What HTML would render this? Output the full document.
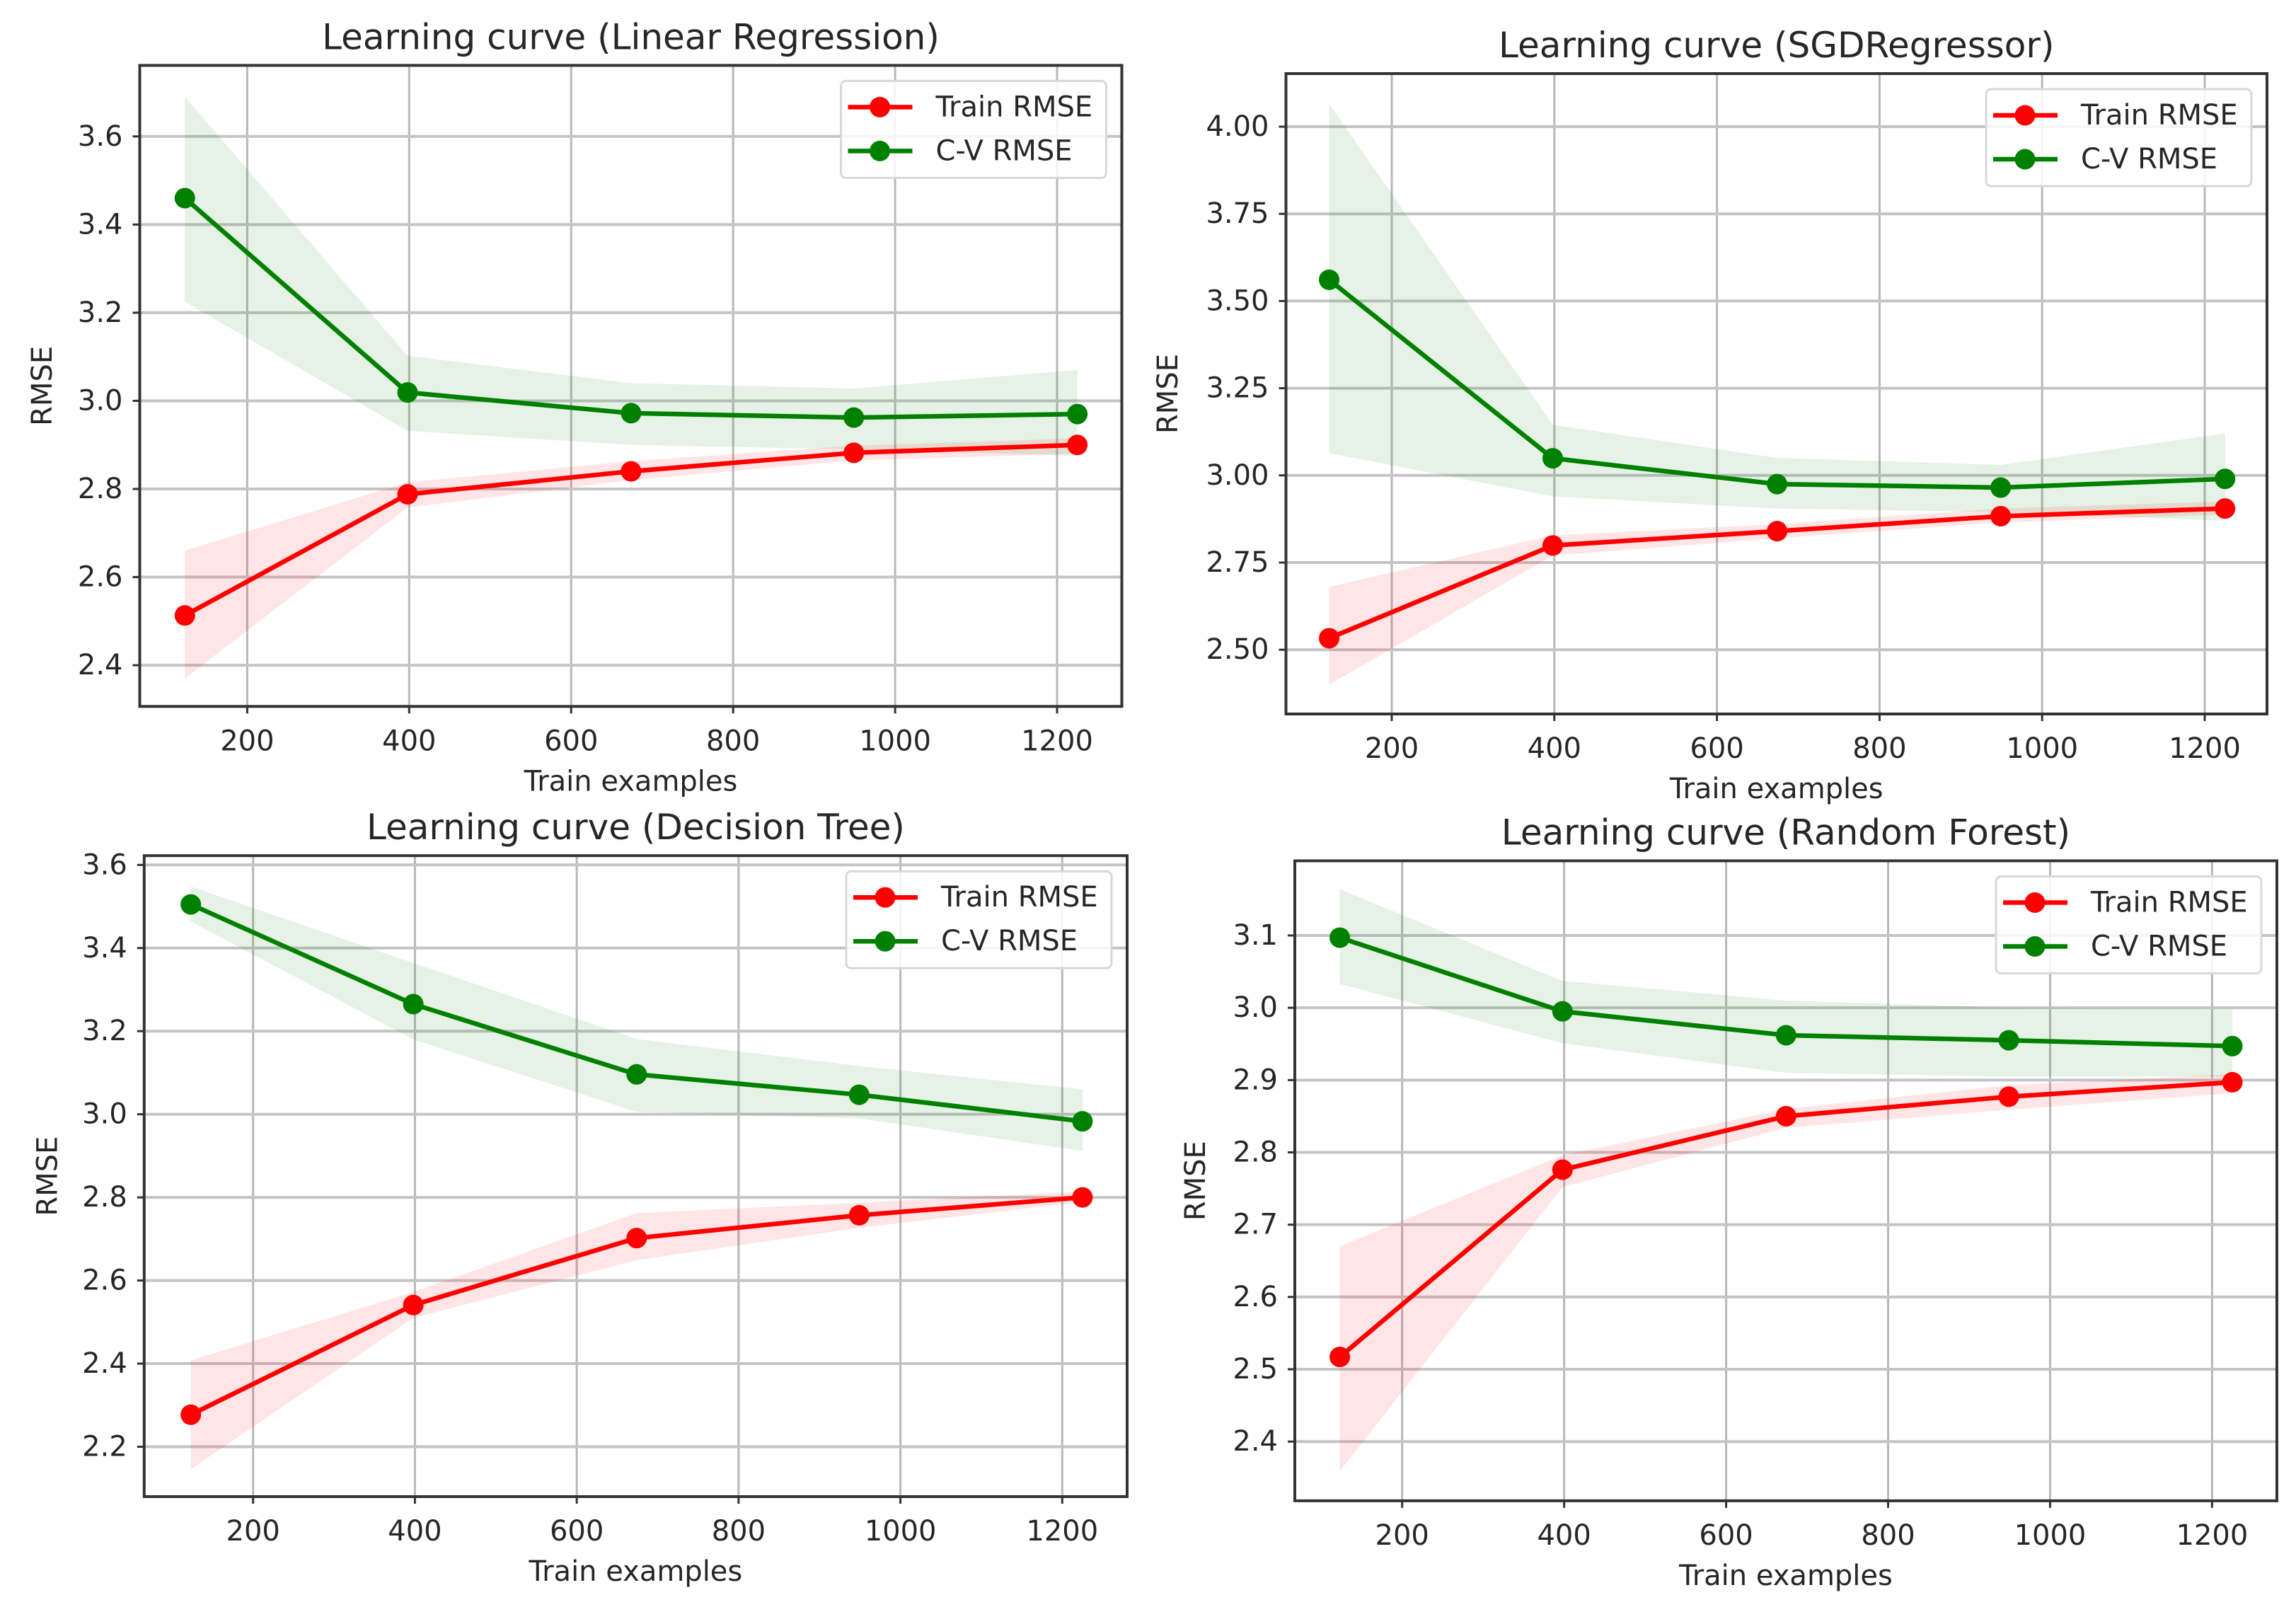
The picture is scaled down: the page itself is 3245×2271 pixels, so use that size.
<!DOCTYPE html>
<html><head><meta charset="utf-8"><style>
html,body{margin:0;padding:0;background:#fff;overflow:hidden;}
svg{display:block;}
text{font-family:"DejaVu Sans","Liberation Sans",sans-serif;fill:#262626;}
</style></head><body>
<svg id="fig" width="3245" height="2271" viewBox="0 0 3245 2271" xmlns="http://www.w3.org/2000/svg"></svg>
<script>
// ---- data ----
const trainSizes = [123, 398, 674, 949, 1225];
const xTicks = [200, 400, 600, 800, 1000, 1200];

const lrTrain = [2.513, 2.788, 2.84, 2.882, 2.90];
const lrTrainHi = [2.66, 2.815, 2.863, 2.898, 2.915];
const lrTrainLo = [2.37, 2.758, 2.82, 2.865, 2.88];
const lrCV = [3.46, 3.019, 2.972, 2.962, 2.97];
const lrCVHi = [3.69, 3.102, 3.04, 3.028, 3.07];
const lrCVLo = [3.225, 2.932, 2.90, 2.89, 2.875];
const lrYTicks = [2.4, 2.6, 2.8, 3.0, 3.2, 3.4, 3.6];

const sgdTrain = [2.533, 2.799, 2.84, 2.883, 2.905];
const sgdTrainHi = [2.68, 2.828, 2.86, 2.905, 2.925];
const sgdTrainLo = [2.40, 2.77, 2.82, 2.865, 2.888];
const sgdCV = [3.561, 3.049, 2.975, 2.965, 2.99];
const sgdCVHi = [4.065, 3.145, 3.05, 3.03, 3.12];
const sgdCVLo = [3.064, 2.94, 2.905, 2.895, 2.87];
const sgdYTicks = [2.50, 2.75, 3.00, 3.25, 3.50, 3.75, 4.00];

const dtTrain = [2.277, 2.541, 2.702, 2.757, 2.80];
const dtTrainHi = [2.408, 2.572, 2.762, 2.787, 2.814];
const dtTrainLo = [2.146, 2.51, 2.649, 2.727, 2.789];
const dtCV = [3.505, 3.265, 3.096, 3.047, 2.983];
const dtCVHi = [3.548, 3.364, 3.181, 3.116, 3.06];
const dtCVLo = [3.464, 3.18, 3.006, 2.99, 2.912];
const dtYTicks = [2.2, 2.4, 2.6, 2.8, 3.0, 3.2, 3.4, 3.6];

const rfTrain = [2.517, 2.776, 2.85, 2.877, 2.897];
const rfTrainHi = [2.67, 2.796, 2.86, 2.893, 2.908];
const rfTrainLo = [2.359, 2.752, 2.834, 2.859, 2.882];
const rfCV = [3.097, 2.995, 2.962, 2.955, 2.947];
const rfCVHi = [3.164, 3.037, 3.01, 3.0, 2.998];
const rfCVLo = [3.033, 2.951, 2.91, 2.905, 2.905];
const rfYTicks = [2.4, 2.5, 2.6, 2.7, 2.8, 2.9, 3.0, 3.1];

// ---- layout (pixel config, not data) ----
const panels = [
 {key:'linear-regression', title:'Learning curve (Linear Regression)', box:[197.5,92.4,1585.5,998.3], xp:[349.4,1494], yv:[2.4,3.6], yp:[940.1,192.8], dec:1, ylx:60,
  tr:lrTrain,trHi:lrTrainHi,trLo:lrTrainLo,cv:lrCV,cvHi:lrCVHi,cvLo:lrCVLo,yt:lrYTicks},
 {key:'sgd-regressor', title:'Learning curve (SGDRegressor)', box:[1817.5,104,3204,1009], xp:[1967,3116], yv:[2.5,4.0], yp:[918.2,179], dec:2, ylx:1651,
  tr:sgdTrain,trHi:sgdTrainHi,trLo:sgdTrainLo,cv:sgdCV,cvHi:sgdCVHi,cvLo:sgdCVLo,yt:sgdYTicks},
 {key:'decision-tree', title:'Learning curve (Decision Tree)', box:[203.8,1209.2,1593,2115], xp:[357.7,1501.3], yv:[2.2,3.6], yp:[2044.5,1222.3], dec:1, ylx:67.6,
  tr:dtTrain,trHi:dtTrainHi,trLo:dtTrainLo,cv:dtCV,cvHi:dtCVHi,cvLo:dtCVLo,yt:dtYTicks},
 {key:'random-forest', title:'Learning curve (Random Forest)', box:[1830,1216.5,3218,2120.9], xp:[1981.7,3126.4], yv:[2.4,3.1], yp:[2037.2,1322], dec:1, ylx:1690,
  tr:rfTrain,trHi:rfTrainHi,trLo:rfTrainLo,cv:rfCV,cvHi:rfCVHi,cvLo:rfCVLo,yt:rfYTicks}
];

const NS = 'http://www.w3.org/2000/svg';
const fig = document.getElementById('fig');
function mk(tag, attrs, parent){
  const e = document.createElementNS(NS, tag);
  for (const k in attrs) e.setAttribute(k, attrs[k]);
  parent.appendChild(e);
  return e;
}
function txt(parent, s, x, y, size, anchor, rot){
  const t = mk('text', {x:0, y:0, 'font-size':size, 'text-anchor':anchor, 'dominant-baseline':'central',
    transform:'translate('+x+','+y+')'+(rot?' rotate(-90)':'')}, parent);
  t.textContent = s;
  return t;
}

panels.forEach(p => {
  const [L,T,R,B] = p.box;
  const xs = v => p.xp[0] + (v-200)/(1200-200)*(p.xp[1]-p.xp[0]);
  const ys = v => p.yp[0] + (v-p.yv[0])/(p.yv[1]-p.yv[0])*(p.yp[1]-p.yp[0]);
  const g = mk('g', {}, fig);
  
  

  xTicks.forEach(v => {
    const l = mk('line', {x1:xs(v), x2:xs(v), y1:T, y2:B, stroke:'#b8b8b8', 'stroke-width':3}, g);
    
    
  });
  p.yt.forEach(v => {
    const l = mk('line', {x1:L, x2:R, y1:ys(v), y2:ys(v), stroke:'#c4c4c4', 'stroke-width':4}, g);
    
    
  });

  function band(hi, lo, color, name){
    let d = '';
    trainSizes.forEach((s,i)=>{ d += (i?'L':'M')+xs(s)+','+ys(hi[i]); });
    for (let i=trainSizes.length-1;i>=0;i--) d += 'L'+xs(trainSizes[i])+','+ys(lo[i]);
    const e = mk('path', {d:d+'Z', fill:color, 'fill-opacity':0.1, stroke:'none'}, g);
    
    
  }
  band(p.trHi, p.trLo, '#ff0000', 'train-rmse-band');
  band(p.cvHi, p.cvLo, '#008000', 'cv-rmse-band');

  function series(vals, color, name){
    const pts = trainSizes.map((s,i)=>xs(s)+','+ys(vals[i])).join(' ');
    const pl = mk('polyline', {points:pts, fill:'none', stroke:color, 'stroke-width':6.5, 'stroke-linejoin':'round'}, g);
    
    
    trainSizes.forEach((s,i)=>{
      const m = mk('circle', {cx:xs(s), cy:ys(vals[i]), r:14.5, fill:color}, g);
      
      
    });
  }
  series(p.tr, '#ff0000', 'train-rmse');
  series(p.cv, '#008000', 'cv-rmse');

  const fr = mk('rect', {x:L, y:T, width:R-L, height:B-T, fill:'none', stroke:'#333', 'stroke-width':4}, g);
  
  

  xTicks.forEach(v => {
    mk('line', {x1:xs(v), x2:xs(v), y1:B, y2:B+10, stroke:'#333', 'stroke-width':3}, g);
    const t = txt(g, String(v), xs(v), B+49, 40, 'middle');
    
    
  });
  p.yt.forEach(v => {
    mk('line', {x1:L-10, x2:L, y1:ys(v), y2:ys(v), stroke:'#333', 'stroke-width':3}, g);
    const t = txt(g, v.toFixed(p.dec), L-24, ys(v), 40, 'end');
    
    
  });

  const tt = txt(g, p.title, (L+R)/2, T-40, 50, 'middle');
  
  
  const xl = txt(g, 'Train examples', (L+R)/2, B+106, 40, 'middle');
  
  
  const yl = txt(g, 'RMSE', p.ylx, (T+B)/2, 40, 'middle', true);
  
  

  const lg = mk('g', {}, g);
  
  
  const bx = R-22-375, by = T+22;
  mk('rect', {x:bx, y:by, width:375, height:137, rx:7, fill:'#fff', 'fill-opacity':0.85, stroke:'#d8d8d8', 'stroke-width':3}, lg);
  [['Train RMSE','#ff0000',37,'legend-entry-train'],['C-V RMSE','#008000',99,'legend-entry-cv']].forEach(e=>{
    const eg = mk('g', {}, lg);
    
    
    mk('line', {x1:bx+10, x2:bx+101, y1:by+e[2], y2:by+e[2], stroke:e[1], 'stroke-width':6.5}, eg);
    mk('circle', {cx:bx+55, cy:by+e[2], r:14.5, fill:e[1]}, eg);
    txt(eg, e[0], bx+134, by+e[2], 40, 'start');
  });
});
</script>
</body></html>
